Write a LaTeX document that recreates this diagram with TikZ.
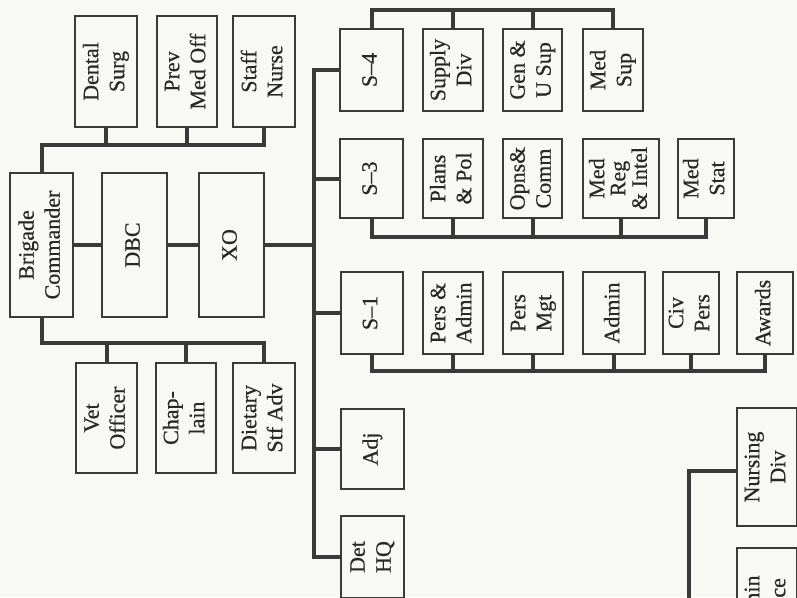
\documentclass[tikz,border=0pt]{standalone}
\usepackage{fontspec}
\setmainfont{Liberation Serif}[FakeBold=0.5]
\definecolor{paper}{RGB}{248,248,245}
\definecolor{ink}{RGB}{58,58,58}
\definecolor{txt}{RGB}{40,40,40}
\newcommand{\rtxt}[1]{\rotatebox{90}{\begin{tabular}{@{}c@{}}#1\end{tabular}}}
\begin{document}
\begin{tikzpicture}[x=1pt,y=-1pt,
  box/.style={draw=ink, line width=1.6pt, fill=paper, inner sep=0pt, text=txt,
    font=\fontsize{22}{26}\selectfont},
  conn/.style={draw=ink, line width=4pt}]
\useasboundingbox (0,0) rectangle (797,597);
\clip (0,0) rectangle (797,597);
\fill[paper] (0,0) rectangle (797,597);

% command group
\node[box, minimum width=63pt, minimum height=144pt] (brig) at (41.5,245) {\rtxt{Brigade\\Commander}};
\node[box, minimum width=65pt, minimum height=144pt] (dbc) at (134.5,245) {\rtxt{DBC}};
\node[box, minimum width=65pt, minimum height=144pt] (xo) at (231.5,245) {\rtxt{XO}};

% special staff top
\node[box, minimum width=62pt, minimum height=111pt] (dental) at (106,71.5) {\rtxt{Dental\\Surg}};
\node[box, minimum width=60pt, minimum height=111pt] (prev) at (187,71.5) {\rtxt{Prev\\Med Off}};
\node[box, minimum width=62pt, minimum height=111pt] (staff) at (264,71.5) {\rtxt{Staff\\Nurse}};

% special staff bottom
\node[box, minimum width=61pt, minimum height=110pt] (vet) at (106.5,418) {\rtxt{Vet\\Officer}};
\node[box, minimum width=60pt, minimum height=110pt] (chap) at (186,418) {\rtxt{Chap-\\lain}};
\node[box, minimum width=62pt, minimum height=110pt] (diet) at (264,418) {\rtxt{Dietary\\Stf Adv}};

% S-4 row
\node[box, minimum width=63pt, minimum height=82pt] (s4) at (371.5,70) {\rtxt{S–4}};
\node[box, minimum width=60pt, minimum height=82pt] (supply) at (453,70) {\rtxt{Supply\\Div}};
\node[box, minimum width=59pt, minimum height=82pt] (genu) at (532.5,70) {\rtxt{Gen \&\\U Sup}};
\node[box, minimum width=60pt, minimum height=82pt] (medsup) at (613,70) {\rtxt{Med\\Sup}};

% S-3 row
\node[box, minimum width=63pt, minimum height=79pt] (s3) at (371.5,178.5) {\rtxt{S–3}};
\node[box, minimum width=60pt, minimum height=79pt] (plans) at (453,178.5) {\rtxt{Plans\\\& Pol}};
\node[box, minimum width=59pt, minimum height=79pt] (opns) at (532.5,178.5) {\rtxt{Opns\&\\Comm}};
\node[box, minimum width=76pt, minimum height=79pt] (medreg) at (621,178.5) {\fontsize{22}{21}\selectfont\rtxt{Med\\Reg\\\& Intel}};
\node[box, minimum width=56pt, minimum height=79pt] (medstat) at (706,178.5) {\rtxt{Med\\Stat}};

% S-1 row
\node[box, minimum width=62pt, minimum height=82pt] (s1) at (372,313) {\rtxt{S–1}};
\node[box, minimum width=60pt, minimum height=82pt] (persadmin) at (453,313) {\rtxt{Pers \&\\Admin}};
\node[box, minimum width=60pt, minimum height=82pt] (persmgt) at (533,313) {\rtxt{Pers\\Mgt}};
\node[box, minimum width=62pt, minimum height=82pt] (admin) at (614,313) {\rtxt{Admin}};
\node[box, minimum width=56pt, minimum height=82pt] (civ) at (691,313) {\rtxt{Civ\\Pers}};
\node[box, minimum width=56pt, minimum height=82pt] (awards) at (765,313) {\rtxt{Awards}};

% lower trunk boxes
\node[box, minimum width=63pt, minimum height=80pt] (adj) at (372.5,449) {\rtxt{Adj}};
\node[box, minimum width=63pt, minimum height=82pt] (dethq) at (372.5,557) {\rtxt{Det\\HQ}};

% lower right
\node[box, minimum width=60pt, minimum height=118pt] (nursing) at (767,467) {\rtxt{Nursing\\Div}};
\node[box, minimum width=60pt, minimum height=116pt] (office) at (767,606) {\rtxt{Admin\\Office}};

% connectors
\coordinate (t) at (314,245);
\draw[conn] (brig) -- (dbc);
\draw[conn] (dbc) -- (xo);
\draw[conn] (xo.east) -- (t);
\draw[conn] (s4.west) -| (t);
\draw[conn] (s3.west) -| (t);
\draw[conn] (s1.west) -| (t);
\draw[conn] (adj.west) -| (t);
\draw[conn] (dethq.west) -| (t);

% top-left bus
\coordinate (bt) at (0,145);
\draw[conn] (brig.north) -- (brig.north |- bt) -- (staff.south |- bt) -- (staff.south);
\draw[conn] (dental.south) -- (dental.south |- bt);
\draw[conn] (prev.south) -- (prev.south |- bt);

% bottom-left bus
\coordinate (bb) at (0,343);
\draw[conn] (brig.south) -- (brig.south |- bb) -- (diet.north |- bb) -- (diet.north);
\draw[conn] (vet.north) -- (vet.north |- bb);
\draw[conn] (chap.north) -- (chap.north |- bb);

% S-4 bus
\coordinate (b4) at (0,10);
\draw[conn] (s4.north) -- (s4.north |- b4) -- (medsup.north |- b4) -- (medsup.north);
\draw[conn] (supply.north) -- (supply.north |- b4);
\draw[conn] (genu.north) -- (genu.north |- b4);

% S-3 bus
\coordinate (b3) at (0,237);
\draw[conn] (s3.south) -- (s3.south |- b3) -- (medstat.south |- b3) -- (medstat.south);
\draw[conn] (plans.south) -- (plans.south |- b3);
\draw[conn] (opns.south) -- (opns.south |- b3);
\draw[conn] (medreg.south) -- (medreg.south |- b3);

% S-1 bus
\coordinate (b1) at (0,371);
\draw[conn] (s1.south) -- (s1.south |- b1) -- (awards.south |- b1) -- (awards.south);
\draw[conn] (persadmin.south) -- (persadmin.south |- b1);
\draw[conn] (persmgt.south) -- (persmgt.south |- b1);
\draw[conn] (admin.south) -- (admin.south |- b1);
\draw[conn] (civ.south) -- (civ.south |- b1);

% nursing branch
\coordinate (nb) at (689,610);
\draw[conn] ([yshift=-4pt]nursing.west) -| (nb);
\end{tikzpicture}
\end{document}
